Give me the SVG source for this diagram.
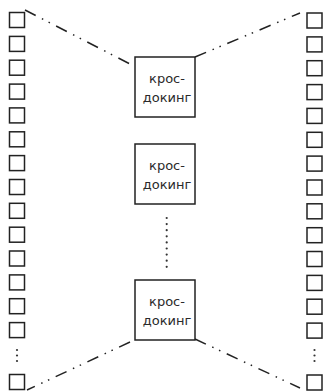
<svg xmlns="http://www.w3.org/2000/svg" width="323" height="392" viewBox="0 0 323 392">
<style>
.sq{fill:#fff;stroke:#222;stroke-width:1.5}
.box{fill:#fff;stroke:#222;stroke-width:1.5}
.t{font-family:"DejaVu Sans",sans-serif;font-size:13px;fill:#2a2a2a;text-anchor:middle}
.dd{fill:none;stroke:#222;stroke-width:1.5;stroke-dasharray:12 7 1.5 6 1.5 7}
.dot{fill:#333}
</style>
<rect width="323" height="392" fill="#fff"/>
<defs>
<rect id="s" class="sq" width="15" height="15"/>
</defs>
<g id="left-column">
<use href="#s" x="9.5" y="12.5"/>
<use href="#s" x="9.5" y="36.4"/>
<use href="#s" x="9.5" y="60.2"/>
<use href="#s" x="9.5" y="84.1"/>
<use href="#s" x="9.5" y="107.9"/>
<use href="#s" x="9.5" y="131.8"/>
<use href="#s" x="9.5" y="155.6"/>
<use href="#s" x="9.5" y="179.5"/>
<use href="#s" x="9.5" y="203.3"/>
<use href="#s" x="9.5" y="227.2"/>
<use href="#s" x="9.5" y="251"/>
<use href="#s" x="9.5" y="274.9"/>
<use href="#s" x="9.5" y="298.7"/>
<use href="#s" x="9.5" y="322.6"/>
<circle class="dot" cx="17" cy="350" r="1.1"/>
<circle class="dot" cx="17" cy="355.5" r="1.1"/>
<circle class="dot" cx="17" cy="361" r="1.1"/>
<use href="#s" x="9.5" y="374.5"/>
</g>
<g id="right-column">
<use href="#s" x="307" y="13"/>
<use href="#s" x="307" y="36.9"/>
<use href="#s" x="307" y="60.7"/>
<use href="#s" x="307" y="84.6"/>
<use href="#s" x="307" y="108.4"/>
<use href="#s" x="307" y="132.3"/>
<use href="#s" x="307" y="156.1"/>
<use href="#s" x="307" y="180"/>
<use href="#s" x="307" y="203.8"/>
<use href="#s" x="307" y="227.7"/>
<use href="#s" x="307" y="251.5"/>
<use href="#s" x="307" y="275.4"/>
<use href="#s" x="307" y="299.2"/>
<use href="#s" x="307" y="323.1"/>
<circle class="dot" cx="314.5" cy="350" r="1.1"/>
<circle class="dot" cx="314.5" cy="355.5" r="1.1"/>
<circle class="dot" cx="314.5" cy="361" r="1.1"/>
<use href="#s" x="307" y="375"/>
</g>
<g id="connectors">
<line class="dd" x1="25" y1="10" x2="130" y2="64"/>
<line class="dd" x1="195" y1="57" x2="300" y2="13"/>
<line class="dd" x1="130" y1="342" x2="27" y2="390"/>
<line class="dd" x1="195" y1="339" x2="300" y2="388"/>
<g id="vertical-dots" class="dot">
<circle cx="166.7" cy="218" r="1.1"/>
<circle cx="166.7" cy="224.1" r="1.1"/>
<circle cx="166.7" cy="230.2" r="1.1"/>
<circle cx="166.7" cy="236.3" r="1.1"/>
<circle cx="166.7" cy="242.4" r="1.1"/>
<circle cx="166.7" cy="248.5" r="1.1"/>
<circle cx="166.7" cy="254.6" r="1.1"/>
<circle cx="166.7" cy="260.7" r="1.1"/>
<circle cx="166.7" cy="266.8" r="1.1"/>
</g>
</g>
<g id="crossdock-1">
<rect class="box" x="135" y="57" width="60" height="60"/>
<text class="t" x="167" y="83">крос-</text>
<text class="t" x="167" y="102">докинг</text>
</g>
<g id="crossdock-2">
<rect class="box" x="135" y="144" width="60" height="60"/>
<text class="t" x="167" y="170">крос-</text>
<text class="t" x="167" y="189">докинг</text>
</g>
<g id="crossdock-3">
<rect class="box" x="135" y="280" width="60" height="60"/>
<text class="t" x="167" y="306">крос-</text>
<text class="t" x="167" y="325">докинг</text>
</g>
</svg>
